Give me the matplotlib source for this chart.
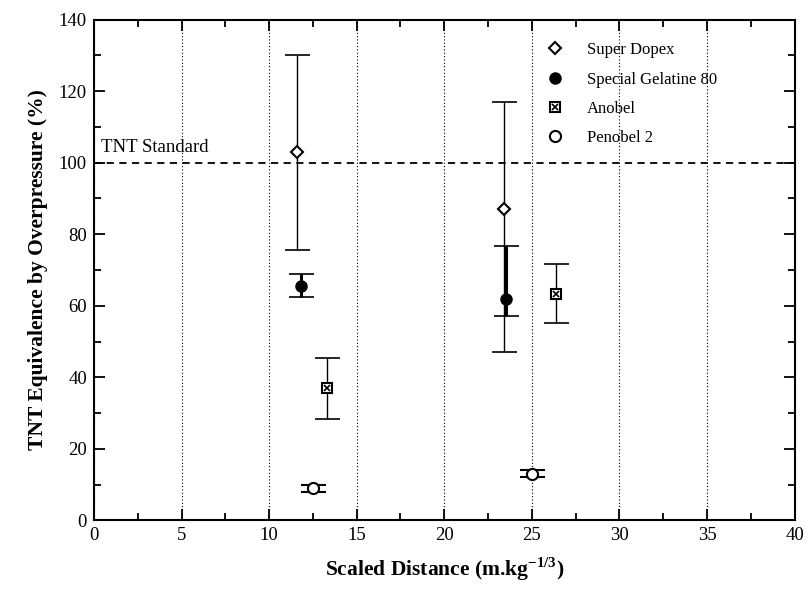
import matplotlib
matplotlib.use("Agg")
import matplotlib.pyplot as plt
from matplotlib.legend_handler import HandlerTuple
from matplotlib.ticker import MultipleLocator

plt.rcParams['font.family'] = ['Liberation Serif', 'DejaVu Serif']
plt.rcParams['mathtext.fontset'] = 'custom'
plt.rcParams['mathtext.rm'] = 'Liberation Serif'
plt.rcParams['mathtext.bf'] = 'Liberation Serif:bold'

# Data
dopex_x = [11.6, 23.4]
dopex_y = [103, 87]
dopex_lo = [75.5, 47]
dopex_hi = [130, 117]

gel_x = [11.8, 23.5]
gel_y = [65.5, 62]
gel_lo = [62.5, 57.2]
gel_hi = [68.8, 76.8]

anobel_x = [13.3, 26.4]
anobel_y = [37, 63.3]
anobel_lo = [28.3, 55.3]
anobel_hi = [45.3, 71.8]

penobel_x = [12.5, 25.0]
penobel_y = [9, 13]
penobel_lo = [8.0, 12.0]
penobel_hi = [10.0, 14.0]

tnt_standard = 100

fig = plt.figure(figsize=(8.1, 5.98), dpi=100)
ax = fig.add_axes([0.116, 0.130, 0.865, 0.837])

def err(y, lo, hi):
    return [[a - b for a, b in zip(y, lo)], [c - a for a, c in zip(y, hi)]]

cap = 9
ax.errorbar(dopex_x, dopex_y, yerr=err(dopex_y, dopex_lo, dopex_hi), fmt='none',
            ecolor='black', elinewidth=1.0, capsize=cap, capthick=1.2, zorder=2)
ax.errorbar(gel_x, gel_y, yerr=err(gel_y, gel_lo, gel_hi), fmt='none',
            ecolor='black', elinewidth=2.2, capsize=cap, capthick=1.2, zorder=2)
ax.errorbar(anobel_x, anobel_y, yerr=err(anobel_y, anobel_lo, anobel_hi), fmt='none',
            ecolor='black', elinewidth=1.0, capsize=cap, capthick=1.2, zorder=2)
ax.errorbar(penobel_x, penobel_y, yerr=err(penobel_y, penobel_lo, penobel_hi), fmt='none',
            ecolor='black', elinewidth=1.0, capsize=cap, capthick=1.5, zorder=2)

h1, = ax.plot(dopex_x, dopex_y, linestyle='none', marker='D', markersize=6,
              markerfacecolor='white', markeredgecolor='black', markeredgewidth=1.5, zorder=3)
h2, = ax.plot(gel_x, gel_y, linestyle='none', marker='o', markersize=8,
              markerfacecolor='black', markeredgecolor='black', zorder=3)
h3a, = ax.plot(anobel_x, anobel_y, linestyle='none', marker='s', markersize=7,
               markerfacecolor='white', markeredgecolor='black', markeredgewidth=1.5, zorder=3)
h3b, = ax.plot(anobel_x, anobel_y, linestyle='none', marker='x', markersize=4.5,
               color='black', markeredgewidth=1.2, zorder=4)
h4, = ax.plot(penobel_x, penobel_y, linestyle='none', marker='o', markersize=8,
              markerfacecolor='white', markeredgecolor='black', markeredgewidth=1.5, zorder=3)

ax.axhline(tnt_standard, color='black', linestyle=(0, (4, 3)), linewidth=1.3, zorder=1)
ax.text(0.4, tnt_standard + 2, 'TNT Standard', fontsize=13.5, ha='left', va='bottom')

ax.set_xlim(0, 40)
ax.set_ylim(0, 140)
ax.xaxis.set_major_locator(MultipleLocator(5))
ax.xaxis.set_minor_locator(MultipleLocator(2.5))
ax.yaxis.set_major_locator(MultipleLocator(20))
ax.yaxis.set_minor_locator(MultipleLocator(10))
ax.tick_params(which='both', direction='in', top=True, right=True, width=1.3)
ax.tick_params(which='major', length=8, labelsize=13.5, pad=5)
ax.tick_params(which='minor', length=5)
ax.xaxis.grid(True, which='major', linestyle=(0, (1, 2)), color='black', linewidth=0.8)
ax.set_axisbelow(True)
for s in ax.spines.values():
    s.set_linewidth(1.5)

ax.set_xlabel(r'Scaled Distance (m.kg$^{\mathbf{-1/3}}$)', fontsize=15.5, fontweight='bold', labelpad=8)
ax.set_ylabel('TNT Equivalence by Overpressure (%)', fontsize=15.5, fontweight='bold', labelpad=8)

ax.legend([h1, h2, (h3a, h3b), h4],
          ['Super Dopex', 'Special Gelatine 80', 'Anobel', 'Penobel 2'],
          handler_map={tuple: HandlerTuple(ndivide=1, pad=0)},
          loc='upper left', bbox_to_anchor=(0.625, 0.985), frameon=False, fontsize=12,
          handlelength=1.0, handletextpad=1.4, labelspacing=0.8)

fig.savefig('out.png', dpi=100)
